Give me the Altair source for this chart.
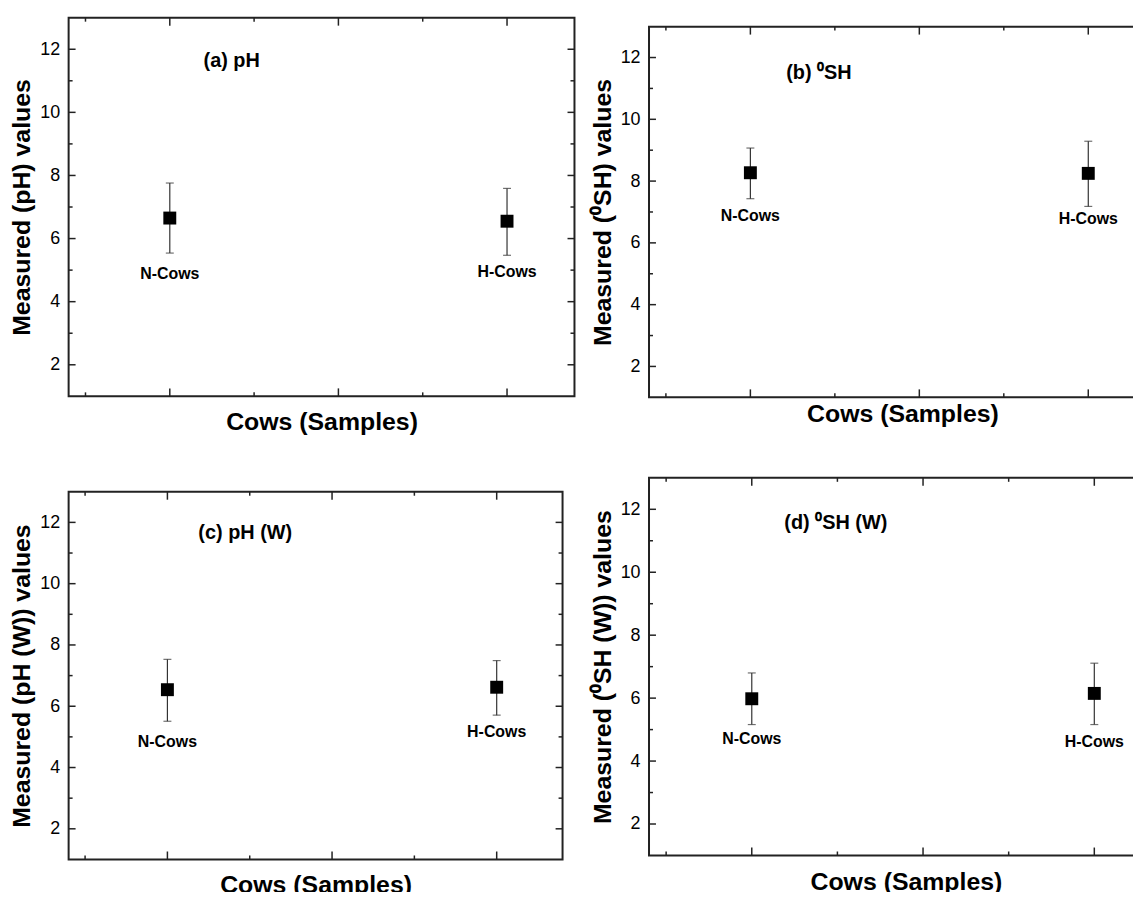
import altair as alt
import pandas as pd

# ---- data ----
groups = ["N-Cows", "H-Cows"]
group_x = [1, 2]

panel_labels = ["(a) pH", "(b) \u2070SH", "(c) pH (W)", "(d) \u2070SH (W)"]
y_titles = [
    "Measured (pH) values",
    "Measured (\u2070SH) values",
    "Measured (pH (W)) values",
    "Measured (\u2070SH (W)) values",
]
means = [[6.65, 6.55], [8.27, 8.25], [6.54, 6.62], [5.98, 6.15]]
upper = [[7.76, 7.59], [9.07, 9.29], [7.53, 7.49], [6.80, 7.11]]
lower = [[5.54, 5.47], [7.43, 7.18], [5.51, 5.71], [5.16, 5.16]]
label_y = [[4.88, 4.94], [6.86, 6.77], [4.83, 5.16], [4.69, 4.61]]
panel_label_x = [1.10, 1.106, 1.094, 1.095]
panel_label_y = [11.63, 11.51, 11.64, 11.56]

y_major = [2, 4, 6, 8, 10, 12]
y_minor = [3, 5, 7, 9, 11]
x_major = [1, 1.5, 2]
x_minor = [0.75, 1.25, 1.75]

x_domain = [0.7, 2.2]
y_domain = [1, 13]

# ---- layout / style ----
widths = [509, 510, 497, 517]
heights = [381, 373, 370, 380]
x_title_pad = [13, 4, 13, 14]
FONT = "Liberation Sans"
LINE = "#222222"
MAJ = 7
MIN = 4


def panel(i):
    W, H = widths[i], heights[i]
    xs = alt.Scale(domain=x_domain, nice=False, zero=False)
    ys = alt.Scale(domain=y_domain, nice=False, zero=False)
    x_axis = alt.Axis(
        title="Cows (Samples)", labels=False, ticks=False, tickSize=0, domain=False,
        grid=False, titleFont=FONT, titleFontSize=25, titleFontWeight="bold",
        titleColor="black", titlePadding=x_title_pad[i],
    )
    y_axis = alt.Axis(
        title=y_titles[i], values=y_major, format="d", ticks=False, tickSize=0,
        domain=False, grid=False, labelFont=FONT, labelFontSize=18,
        labelColor="black", labelPadding=9, titleFont=FONT, titleFontSize=25,
        titleFontWeight="bold", titleColor="black", titlePadding=5,
    )

    def X(f):
        return alt.X(f, type="quantitative", scale=xs, axis=x_axis)

    def Y(f):
        return alt.Y(f, type="quantitative", scale=ys, axis=y_axis)

    df = pd.DataFrame({
        "group": groups, "x": group_x, "mean": means[i],
        "hi": upper[i], "lo": lower[i], "ly": label_y[i],
    })
    base = alt.Chart(df)
    err = base.mark_rule(color="#333333", strokeWidth=1.2).encode(x=X("x"), y=Y("lo"), y2="hi")
    cap_lo = base.mark_tick(orient="horizontal", size=8, thickness=1.2, color="#333333").encode(x=X("x"), y=Y("lo"))
    cap_hi = base.mark_tick(orient="horizontal", size=8, thickness=1.2, color="#333333").encode(x=X("x"), y=Y("hi"))
    sq = base.mark_square(size=169, color="black", opacity=1).encode(x=X("x"), y=Y("mean"))
    lab = base.mark_text(font=FONT, fontSize=16, fontWeight="bold", color="black").encode(
        x=X("x"), y=Y("ly"), text="group:N")

    tdf = pd.DataFrame({"t": [panel_labels[i]], "x": [panel_label_x[i]], "y": [panel_label_y[i]]})
    ttl = alt.Chart(tdf).mark_text(font=FONT, fontSize=20, fontWeight="bold", align="left",
                                   baseline="middle", color="black").encode(
        x=X("x"), y=Y("y"), text="t:N")

    ymaj = alt.Chart(pd.DataFrame({"v": y_major}))
    ymin = alt.Chart(pd.DataFrame({"v": y_minor}))
    xmaj = alt.Chart(pd.DataFrame({"v": x_major}))
    xmin = alt.Chart(pd.DataFrame({"v": x_minor}))
    rk = dict(color=LINE, strokeWidth=1.5)
    layers = [
        err, cap_lo, cap_hi, sq, lab, ttl,
        ymaj.mark_rule(**rk).encode(y=Y("v"), x=alt.value(0), x2=alt.value(MAJ)),
        ymaj.mark_rule(**rk).encode(y=Y("v"), x=alt.value(W), x2=alt.value(W - MAJ)),
        ymin.mark_rule(**rk).encode(y=Y("v"), x=alt.value(0), x2=alt.value(MIN)),
        ymin.mark_rule(**rk).encode(y=Y("v"), x=alt.value(W), x2=alt.value(W - MIN)),
        xmaj.mark_rule(**rk).encode(x=X("v"), y=alt.value(H), y2=alt.value(H - MAJ - 1)),
        xmaj.mark_rule(**rk).encode(x=X("v"), y=alt.value(0), y2=alt.value(MAJ + 1)),
        xmin.mark_rule(**rk).encode(x=X("v"), y=alt.value(H), y2=alt.value(H - MIN)),
        xmin.mark_rule(**rk).encode(x=X("v"), y=alt.value(0), y2=alt.value(MIN)),
    ]
    return alt.layer(*layers).properties(width=W, height=H)


# tiny invisible cell that lowers the right-hand column a little
spacer = alt.Chart(pd.DataFrame({"v": [0]})).mark_rule(strokeWidth=0, strokeOpacity=0).encode(
    x=alt.value(0), y=alt.value(0), y2=alt.value(1)
).properties(width=1, height=1, view=alt.ViewBackground(strokeOpacity=0))

col1 = alt.vconcat(panel(0), panel(2), spacing=55)
col2 = alt.vconcat(spacer, alt.vconcat(panel(1), panel(3), spacing=49), spacing=6)
chart = alt.hconcat(col1, col2, spacing=12).properties(
    padding={"left": 0, "top": 5, "right": -32, "bottom": -9},
    background="white",
).configure_view(stroke=LINE, strokeWidth=2)

chart.save("out.html", embed_options={"renderer": "svg", "actions": False})
